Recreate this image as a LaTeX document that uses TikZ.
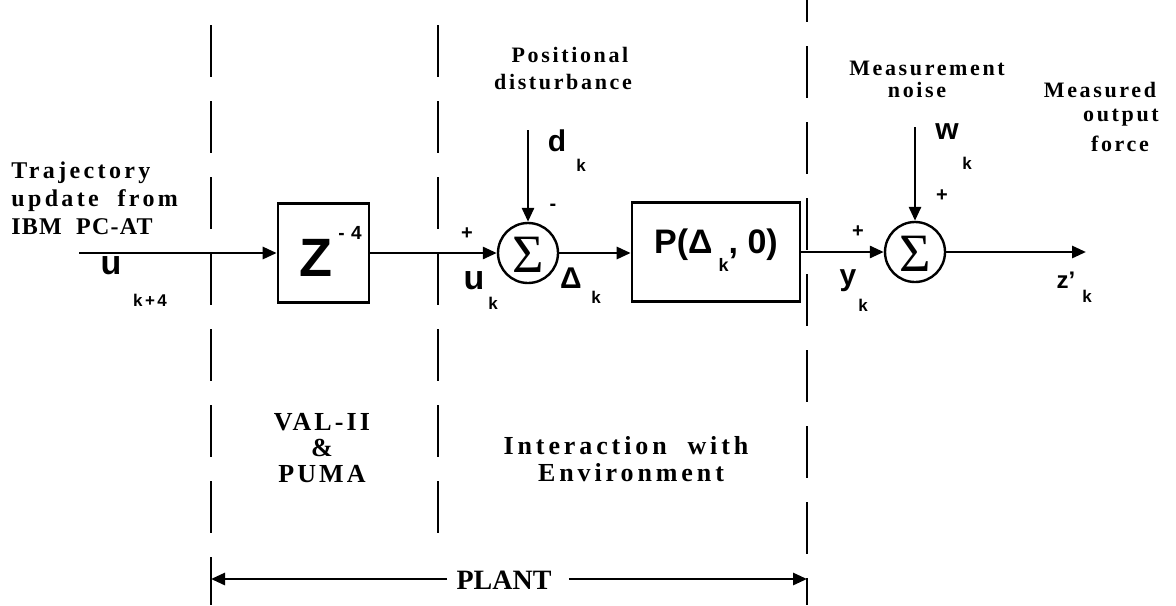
\documentclass[tikz,border=0pt]{standalone}
\usepackage{fontspec}
\setmainfont{Liberation Serif}
\setsansfont{Liberation Sans}
\newfontfamily\spaced[LetterSpace=12]{Liberation Serif}
\newfontfamily\spacedt[LetterSpace=14]{Liberation Serif}
\newfontfamily\spacedl[LetterSpace=5]{Liberation Serif}
\newfontfamily\spacedm[LetterSpace=12]{Liberation Serif}
\newfontfamily\spacede[LetterSpace=15]{Liberation Serif}
\usetikzlibrary{arrows.meta}
\begin{document}
\begin{tikzpicture}[x=0.5pt,y=-0.5pt,
  line width=1.4pt,
  sig/.style={draw,circle,minimum size=30pt,inner sep=0pt,line width=1.2pt},
  sigma/.style={font=\fontsize{27}{27}\selectfont,inner sep=0pt},
  blk/.style={draw,line width=1.3pt,inner sep=0pt},
  arr/.style={-{Triangle[length=7pt,width=6pt]}},
  sepline/.style={line width=1.4pt,dash pattern=on 26pt off 12pt},
  lbl/.style={font=\bfseries\fontsize{11}{13}\selectfont\spaced,align=center,inner sep=0pt},
  lblw/.style={font=\bfseries\fontsize{12}{14}\selectfont\spacedt,inner sep=0pt,anchor=west},
  big/.style={font=\bfseries\fontsize{13}{15}\selectfont\spacedm,align=center,inner sep=0pt},
  sym/.style={font=\sffamily\bfseries\fontsize{15}{15}\selectfont,inner sep=0pt},
  sub/.style={font=\sffamily\bfseries\fontsize{8.5}{8.5}\selectfont,inner sep=0pt},
  sign/.style={font=\sffamily\bfseries\fontsize{10}{10}\selectfont,inner sep=0pt}]

\useasboundingbox (0,0) rectangle (1176,605);
\clip (0,0) rectangle (1176,605);

% separators
\draw[sepline] (211,25) -- (211,605);
\draw[sepline] (438,25) -- (438,540);
\draw[sepline] (807,-30) -- (807,605);

% blocks
\node[blk,minimum width=45.5pt,minimum height=49.5pt] (z) at (323.5,253) {};
\node[font=\sffamily\bfseries\fontsize{27}{27}\selectfont,inner sep=0pt] (zt) at (316,258) {Z};
\node[font=\sffamily\bfseries\fontsize{9.5}{9.5}\selectfont,inner sep=0pt] (zexp) at (350,233) {-\,\,4};

\node[sig] (s1) at (528,253) {};
\node[sigma] (s1t) at (528,255) {Σ};
\node[blk,minimum width=84pt,minimum height=49.5pt] (p) at (716,252) {};
\node[font=\sffamily\bfseries\fontsize{17}{17}\selectfont,inner sep=0pt] (pt) at (716,250)
  {P(Δ\raisebox{-9pt}{\fontsize{9}{9}\selectfont\,\,k}, 0)};
\node[sig] (s2) at (915,252) {};
\node[sigma] (s2t) at (915,254) {Σ};

% endpoints
\coordinate (in) at (79,253);
\coordinate (dtop) at (528,130);
\coordinate (wtop) at (915,127);
\coordinate (out) at (1086,252);

% connectors
\draw[arr] (in) -- (z.west);
\draw[arr] (z.east) -- (s1.west);
\draw[arr] (s1.east) -- (p.west |- s1.east);
\draw[arr] (p.east |- s2.west) -- (s2.west);
\draw[arr] (s2.east) -- (out);
\draw[arr] (dtop) -- (s1.north);
\draw[arr] (wtop) -- (s2.north);

% signs
\node[sign] (sp1) at (467,234) {+};
\node[sign] (sm1) at (553,207) {-};
\node[sign] (sp2) at (858,232) {+};
\node[sign] (sp3) at (942,196) {+};

% signal labels
\node[sym,font=\sffamily\bfseries\fontsize{17}{17}\selectfont] (uin) at (111,266) {u};
\node[font=\sffamily\bfseries\fontsize{8.5}{8.5}\selectfont\addfontfeature{LetterSpace=15},inner sep=0pt] (uinsub) at (150,300) {k+4};
\node[sym,font=\sffamily\bfseries\fontsize{17}{17}\selectfont] (uk) at (474,281) {u};
\node[sub] (uksub) at (493,303) {k};
\node[sym] (dl) at (571,278) {Δ};
\node[sub] (dlsub) at (596,297) {k};
\node[sym] (dk) at (557,141) {d};
\node[sub] (dksub) at (581,165) {k};
\node[sym] (yk) at (848,281) {y};
\node[sub] (yksub) at (863,305) {k};
\node[sym] (wk) at (947,132) {w};
\node[sub] (wksub) at (967,163) {k};
\node[sym,font=\sffamily\bfseries\fontsize{12}{12}\selectfont] (zk) at (1066,280) {z'};
\node[sub] (zksub) at (1087,296) {k};

% text labels
\node[lbl] (pos1) at (570,55) {Positional};
\node[lbl] (pos2) at (563,82) {disturbance};
\node[lbl] (mn1) at (927,68) {Measurement};
\node[lbl] (mn2) at (917,90) {noise};
\node[lbl] (mo1) at (1100,90) {Measured};
\node[lbl] (mo2) at (1121,118) {output};
\node[lbl] (mo3) at (1120,144) {force};
\node[lblw] (t1) at (10,173) {Trajectory};
\node[lblw] (t2) at (10,201) {update\ \ from};
\node[lblw,font=\bfseries\fontsize{12}{14}\selectfont\spacedl] (t3) at (10,227) {IBM\ \ PC-AT};

\node[big] (v1) at (322,422) {VAL-II};
\node[big] (v2) at (322,448) {\&};
\node[big] (v3) at (322,474) {PUMA};
\node[big,font=\bfseries\fontsize{13}{15}\selectfont\spacede] (e1) at (626,446) {Interaction\ \ with};
\node[big,font=\bfseries\fontsize{13}{15}\selectfont\spacede] (e2) at (631,473) {Environment};

% PLANT
\node[font=\bfseries\fontsize{14}{14}\selectfont,inner sep=0pt] (plant) at (504,580) {PLANT};
\coordinate (pl) at (211,579);
\coordinate (pr) at (807,579);
\draw[arr] ([xshift=-4pt]plant.west |- pl) -- (pl);
\draw[arr] ([xshift=8pt]plant.east |- pr) -- (pr);
\end{tikzpicture}
\end{document}
